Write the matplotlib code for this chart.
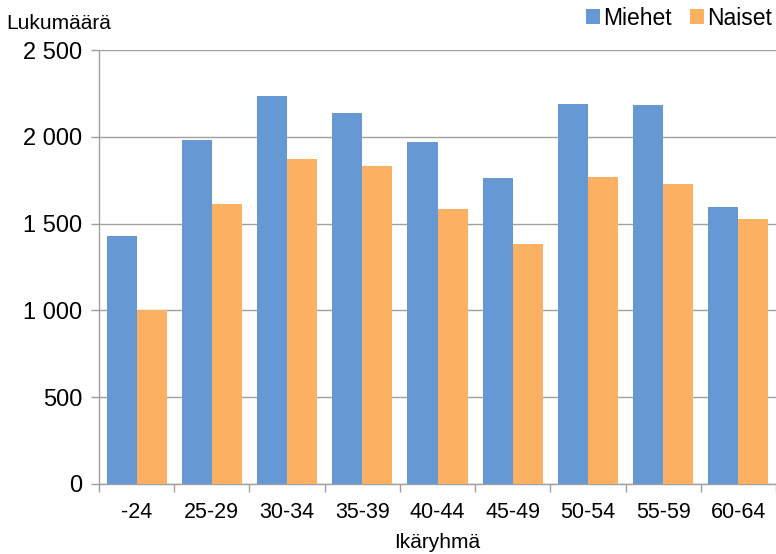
import matplotlib as mpl
mpl.use('Agg')
from matplotlib import pyplot as plt
from matplotlib.ticker import FuncFormatter, FixedLocator
import numpy as np

# age groups and counts
groups = ['-24', '25-29', '30-34', '35-39', '40-44', '45-49', '50-54', '55-59', '60-64']
miehet = [1428, 1981, 2235, 2137, 1970, 1763, 2189, 2183, 1596]
naiset = [1002, 1613, 1872, 1832, 1584, 1382, 1768, 1728, 1526]
yticks = [0, 500, 1000, 1500, 2000, 2500]

plt.rcParams.update({'font.size': 15,
                     'font.family': 'sans-serif'})
mpl.rcParams['font.sans-serif'] = ['Liberation Sans']

grey = '#A0A0A0'
fig = plt.figure(figsize=(7.76, 5.54), dpi=100)
ax = fig.add_axes([0.1276, 0.1264, 0.8724, 0.7833])

x = np.arange(len(groups))
w = 0.4
ax.bar(x - w / 2, miehet, width=w, color='#6699D3', label='Miehet', zorder=3)
ax.bar(x + w / 2, naiset, width=w, color='#FBB062', label='Naiset', zorder=3)

ax.set_xlim(-0.5, len(groups) - 0.5)
ax.set_ylim(0, 2500)
ax.set_yticks(yticks)
ax.yaxis.set_major_formatter(FuncFormatter(lambda v, p: f'{int(v):,}'.replace(',', ' ')))
ax.yaxis.grid(True, color=grey, lw=1, zorder=0)

ax.set_xticks(x)
ax.set_xticklabels(groups)
ax.xaxis.set_minor_locator(FixedLocator(np.arange(-0.5, len(groups), 1)))
ax.tick_params(axis='x', which='major', length=0, pad=13, labelsize=15.5)
ax.tick_params(axis='x', which='minor', length=6, color=grey, width=1)
ax.tick_params(axis='y', length=6, color=grey, width=1, labelsize=17, pad=6)

for s in ['top', 'right']:
    ax.spines[s].set_visible(False)
for s in ['left', 'bottom']:
    ax.spines[s].set_color(grey)
    ax.spines[s].set_linewidth(1)

ax.set_xlabel('Ikäryhmä', fontsize=15, labelpad=7)
fig.text(0.008, 0.957, 'Lukumäärä', fontsize=15, va='center', ha='left')

fig.legend(loc='upper right', bbox_to_anchor=(1.022, 1.025), ncol=2, frameon=False,
           handlelength=0.6, handleheight=0.6, handletextpad=0.15, columnspacing=0.8,
           fontsize=16.5)

fig.savefig('out.png', dpi=100)
